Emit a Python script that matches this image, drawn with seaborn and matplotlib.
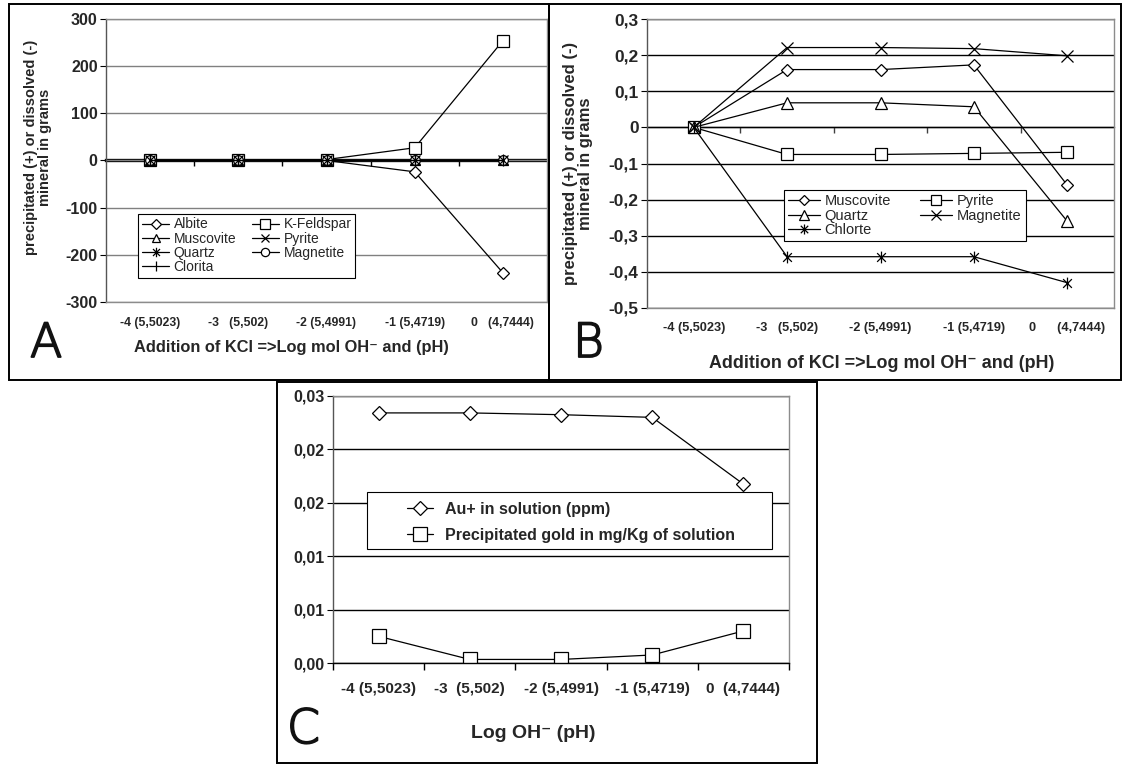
import numpy as np
import seaborn as sns
import matplotlib.pyplot as plt
import matplotlib.patheffects as pe
from matplotlib.patches import Rectangle
from matplotlib.path import Path

# Categorias: log mol OH- e (pH)
cats_a = ['-4 (5,5023)', '-3   (5,502)', '-2 (5,4991)', '-1 (5,4719)', '0   (4,7444)']
cats_b = ['-4 (5,5023)', '-3   (5,502)', '-2 (5,4991)', '-1 (5,4719)', '0      (4,7444)']
cats_c = ['-4 (5,5023)', '-3  (5,502)', '-2 (5,4991)', '-1 (5,4719)', '0  (4,7444)']

# Painel A (gramas)
albite = [0, 0, 0, -24, -238]
k_feldspar = [0, 0, 2, 27, 254]
muscovite_a = [0, 0, 0, 0, 0]
pyrite_a = [0, 0, 0, 0, 0]
quartz_a = [0, 0, 0, 0, 0]
magnetite_a = [0, 0, 0, 0, 0]
clorita = [0, 0, 0, 0, 0]

# Painel B (gramas)
muscovite_b = [0, 0.16, 0.16, 0.173, -0.16]
pyrite_b = [0, -0.075, -0.075, -0.072, -0.069]
quartz_b = [0, 0.068, 0.068, 0.057, -0.26]
magnetite_b = [0, 0.221, 0.221, 0.218, 0.198]
chlorite_b = [0, -0.358, -0.358, -0.358, -0.43]

# Painel C
au_solution = [0.0281, 0.0281, 0.0279, 0.0276, 0.0201]
gold_precip = [0.0030, 0.0004, 0.0004, 0.0009, 0.0036]

sns.set_theme(style='white')
FONT = ['Liberation Sans', 'DejaVu Sans']
plt.rcParams['font.family'] = FONT

W, H = 1122, 765
fig = plt.figure(figsize=(W / 100, H / 100), dpi=100)

# marcador asterisco do Excel
star = Path([(-1, -1), (1, 1), (-1, 1), (1, -1), (0, -1.35), (0, 1.35)],
            [Path.MOVETO, Path.LINETO] * 3)


def px_axes(x0, y0, x1, y1):
    return fig.add_axes([x0 / W, 1 - y1 / H, (x1 - x0) / W, (y1 - y0) / H])


def draw_series(ax, n, series):
    x = np.arange(n)
    for name, vals, mk, size in series:
        sns.lineplot(x=x, y=vals, ax=ax, color='black', lw=0.9, marker=mk,
                     markersize=size, markerfacecolor='white',
                     markeredgecolor='black', markeredgewidth=0.9, label=name)


def style_axes(ax, cats, yticks, ylabels, grid_color, xsize, ysize, xpad):
    n = len(cats)
    ax.set_xlim(-0.5, n - 0.5)
    ax.set_ylim(yticks[0], yticks[-1])
    ax.set_xticks(np.arange(n), labels=cats, fontweight='bold', fontsize=xsize)
    ax.set_yticks(yticks, labels=ylabels, fontweight='bold', fontsize=ysize)
    ax.tick_params(axis='x', length=0, pad=xpad)
    ax.tick_params(axis='y', direction='out', length=4, width=0.8, color='black', pad=2, left=True)
    ax.set_axisbelow(True)
    ax.yaxis.grid(True, color=grid_color, lw=1)
    ax.xaxis.grid(False)
    for s in ['top', 'right', 'bottom']:
        ax.spines[s].set_color('#8c8c8c')
        ax.spines[s].set_linewidth(1)
    ax.spines['left'].set_color('#555555')
    ax.spines['left'].set_linewidth(1)
    ax.set_xlabel('')
    ax.set_ylabel('')


def zero_axis(ax, n, lw, color):
    sec = ax.secondary_xaxis(0, transform=ax.transData)
    sec.set_xticks(np.arange(0.5, n - 1, 1.0))
    sec.tick_params(axis='x', direction='out', length=4, width=1, color=color, labelbottom=False)
    sec.spines['bottom'].set_linewidth(lw)
    sec.spines['bottom'].set_color(color)


def ordered_legend(ax, order, **kw):
    h, l = ax.get_legend_handles_labels()
    d = dict(zip(l, h))
    leg = ax.legend([d[k] for k in order], order, loc='upper left', borderaxespad=0,
                    frameon=True, fancybox=False, edgecolor='black', framealpha=1,
                    **kw)
    leg.get_frame().set_linewidth(0.8)
    return leg


# ---------------- Painel A ----------------
axA = px_axes(106, 19, 547, 302)
draw_series(axA, len(cats_a), [
    ('Albite', albite, 'D', 6),
    ('K-Feldspar', k_feldspar, 's', 8),
    ('Muscovite', muscovite_a, '^', 7),
    ('Pyrite', pyrite_a, 'x', 7),
    ('Magnetite', magnetite_a, 'o', 7),
    ('Quartz', quartz_a, star, 8),
    ('Clorita', clorita, '|', 9),
])
yA = np.arange(-300, 301, 100)
style_axes(axA, cats_a, yA, [str(v) for v in yA], '#808080', 8.8, 11.5, 11)
zero_axis(axA, len(cats_a), 2.4, 'black')
ordered_legend(axA, ['Albite', 'Muscovite', 'Quartz', 'Clorita', 'K-Feldspar', 'Pyrite', 'Magnetite'],
               ncol=2, bbox_to_anchor=(0.073, 0.311), fontsize=10, handlelength=2.0,
               handletextpad=0.3, columnspacing=1.1, labelspacing=0.02, borderpad=0.25,
               markerscale=0.85)
axA.set_ylabel('precipitated (+) or dissolved (-)\nmineral in grams', fontweight='bold',
               fontsize=10.5, linespacing=1.05)
axA.yaxis.set_label_coords(-0.122, 0.548)
axA.set_xlabel('Addition of KCl =>Log mol OH\u207b and (pH)', fontweight='bold', fontsize=11.8)
axA.xaxis.set_label_coords(0.42, -0.135)

# ---------------- Painel B ----------------
axB = px_axes(647, 19, 1114, 308)
draw_series(axB, len(cats_b), [
    ('Muscovite', muscovite_b, 'D', 6.5),
    ('Pyrite', pyrite_b, 's', 9),
    ('Quartz', quartz_b, '^', 8),
    ('Magnetite', magnetite_b, 'x', 8),
    ('Chlorte', chlorite_b, star, 8.5),
])
yB = np.round(np.arange(-0.5, 0.31, 0.1), 1)
lbB = ['0' if abs(v) < 1e-9 else f'{v:.1f}'.replace('.', ',') for v in yB]
style_axes(axB, cats_b, yB, lbB, 'black', 9.2, 12.5, 10)
zero_axis(axB, len(cats_b), 1.0, '#404040')
ordered_legend(axB, ['Muscovite', 'Quartz', 'Chlorte', 'Pyrite', 'Magnetite'],
               ncol=2, bbox_to_anchor=(0.293, 0.408), fontsize=10.5, handlelength=2.2,
               handletextpad=0.3, columnspacing=2.0, labelspacing=0.02, borderpad=0.3,
               markerscale=0.85)
axB.set_ylabel('precipitated (+) or dissolved (-)\nmineral in grams', fontweight='bold',
               fontsize=12, linespacing=1.0)
axB.yaxis.set_label_coords(-0.115, 0.5)
axB.set_xlabel('Addition of KCl =>Log mol OH\u207b and (pH)', fontweight='bold', fontsize=12.9)
axB.xaxis.set_label_coords(0.503, -0.162)

# ---------------- Painel C ----------------
axC = px_axes(333, 396, 789, 663)
draw_series(axC, len(cats_c), [
    ('Au+ in solution (ppm)', au_solution, 'D', 7),
    ('Precipitated gold in mg/Kg of solution', gold_precip, 's', 10),
])
yC = np.round(np.arange(0, 0.0301, 0.006), 3)
lbC = [f'{v:.2f}'.replace('.', ',') for v in yC]
style_axes(axC, cats_c, yC, lbC, 'black', 11, 11.5, 13.5)
axC.spines['bottom'].set_color('black')
axC.set_xticks(np.arange(-0.5, len(cats_c), 1.0), minor=True)
axC.tick_params(axis='x', which='minor', direction='out', length=5, width=1, color='black', bottom=True)
axC.add_patch(Rectangle((0.075, 0.427), 0.888, 0.213, transform=axC.transAxes,
                        facecolor='white', edgecolor='black', lw=0.8, zorder=2.5))
h, l = axC.get_legend_handles_labels()
legC = axC.legend(h, l, loc='upper left', bbox_to_anchor=(0.149, 0.628), frameon=False,
                  prop={'weight': 'bold', 'size': 11.5, 'family': FONT},
                  handlelength=1.6, handletextpad=0.75, labelspacing=0.7, borderaxespad=0)
legC.set_zorder(5)
axC.set_xlabel('Log OH\u207b (pH)', fontweight='bold', fontsize=14)
axC.xaxis.set_label_coords(0.439, -0.232)

# ---------------- Molduras e letras ----------------
for x0, y0, x1, y1 in [(9, 4, 549, 380), (549, 4, 1121, 380), (277, 382, 817, 763)]:
    fig.add_artist(Rectangle((x0 / W, 1 - y1 / H), (x1 - x0) / W, (y1 - y0) / H,
                             transform=fig.transFigure, fill=False, ec='black', lw=1.4))

for letter, x, y in [('A', 30, 357), ('B', 573, 357), ('C', 287, 743)]:
    fig.text(x / W, 1 - y / H, letter, fontsize=34, fontweight='light',
             family=['DejaVu Sans'], va='baseline', ha='left', color='#111111',
             path_effects=[pe.withStroke(linewidth=1.3, foreground='#111111')])

plt.savefig('out.png', dpi=100)
